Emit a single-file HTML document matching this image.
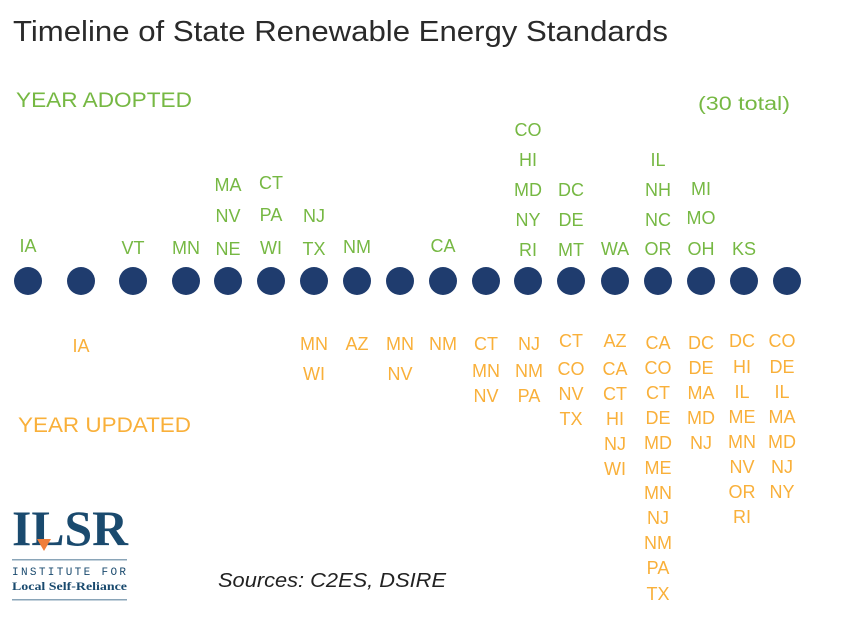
<!DOCTYPE html>
<html><head><style>body{margin:0;background:#fff}svg{display:block}</style></head>
<body>
<svg width="841" height="619" xmlns="http://www.w3.org/2000/svg" font-family="Liberation Sans, sans-serif">
<text x="13" y="41" font-size="29" fill="#2a2a2a" textLength="655" lengthAdjust="spacingAndGlyphs">Timeline of State Renewable Energy Standards</text>
<text x="16" y="107" font-size="21" fill="#76b843" textLength="176" lengthAdjust="spacingAndGlyphs">YEAR ADOPTED</text>
<text x="698" y="110" font-size="19" fill="#76b843" textLength="92" lengthAdjust="spacingAndGlyphs">(30 total)</text>
<text x="18" y="432" font-size="21" fill="#f9b03a" textLength="173" lengthAdjust="spacingAndGlyphs">YEAR UPDATED</text>
<text x="218" y="587" font-size="20" font-style="italic" fill="#222" textLength="228" lengthAdjust="spacingAndGlyphs">Sources: C2ES, DSIRE</text>
<g fill="#1f3c6e">
<circle cx="28" cy="281" r="14"/><circle cx="81" cy="281" r="14"/><circle cx="133" cy="281" r="14"/><circle cx="186" cy="281" r="14"/><circle cx="228" cy="281" r="14"/><circle cx="271" cy="281" r="14"/><circle cx="314" cy="281" r="14"/><circle cx="357" cy="281" r="14"/><circle cx="400" cy="281" r="14"/><circle cx="443" cy="281" r="14"/><circle cx="486" cy="281" r="14"/><circle cx="528" cy="281" r="14"/><circle cx="571" cy="281" r="14"/><circle cx="615" cy="281" r="14"/><circle cx="658" cy="281" r="14"/><circle cx="701" cy="281" r="14"/><circle cx="744" cy="281" r="14"/><circle cx="787" cy="281" r="14"/>
</g>
<g font-size="18" fill="#76b843" text-anchor="middle">
<text x="28" y="252">IA</text>
<text x="133" y="254">VT</text>
<text x="186" y="254">MN</text>
<text x="228" y="191">MA</text><text x="228" y="222">NV</text><text x="228" y="255">NE</text>
<text x="271" y="189">CT</text><text x="271" y="221">PA</text><text x="271" y="254">WI</text>
<text x="314" y="222">NJ</text><text x="314" y="255">TX</text>
<text x="357" y="253">NM</text>
<text x="443" y="252">CA</text>
<text x="528" y="136">CO</text><text x="528" y="166">HI</text><text x="528" y="196">MD</text><text x="528" y="226">NY</text><text x="528" y="256">RI</text>
<text x="571" y="196">DC</text><text x="571" y="226">DE</text><text x="571" y="256">MT</text>
<text x="615" y="255">WA</text>
<text x="658" y="166">IL</text><text x="658" y="196">NH</text><text x="658" y="226">NC</text><text x="658" y="255">OR</text>
<text x="701" y="195">MI</text><text x="701" y="224">MO</text><text x="701" y="255">OH</text>
<text x="744" y="255">KS</text>
</g>
<g font-size="18" fill="#f9b03a" text-anchor="middle">
<text x="81" y="352">IA</text>
<text x="314" y="350">MN</text><text x="314" y="380">WI</text>
<text x="357" y="350">AZ</text>
<text x="400" y="350">MN</text><text x="400" y="380">NV</text>
<text x="443" y="350">NM</text>
<text x="486" y="350">CT</text><text x="486" y="377">MN</text><text x="486" y="402">NV</text>
<text x="529" y="350">NJ</text><text x="529" y="377">NM</text><text x="529" y="402">PA</text>
<text x="571" y="347">CT</text><text x="571" y="375">CO</text><text x="571" y="400">NV</text><text x="571" y="425">TX</text>
<text x="615" y="347">AZ</text><text x="615" y="375">CA</text><text x="615" y="400">CT</text><text x="615" y="425">HI</text><text x="615" y="450">NJ</text><text x="615" y="475">WI</text>
<text x="658" y="349">CA</text><text x="658" y="374">CO</text><text x="658" y="399">CT</text><text x="658" y="424">DE</text><text x="658" y="449">MD</text><text x="658" y="474">ME</text><text x="658" y="499">MN</text><text x="658" y="524">NJ</text><text x="658" y="549">NM</text><text x="658" y="574">PA</text><text x="658" y="600">TX</text>
<text x="701" y="349">DC</text><text x="701" y="374">DE</text><text x="701" y="399">MA</text><text x="701" y="424">MD</text><text x="701" y="449">NJ</text>
<text x="742" y="347">DC</text><text x="742" y="373">HI</text><text x="742" y="398">IL</text><text x="742" y="423">ME</text><text x="742" y="448">MN</text><text x="742" y="473">NV</text><text x="742" y="498">OR</text><text x="742" y="523">RI</text>
<text x="782" y="347">CO</text><text x="782" y="373">DE</text><text x="782" y="398">IL</text><text x="782" y="423">MA</text><text x="782" y="448">MD</text><text x="782" y="473">NJ</text><text x="782" y="498">NY</text>
</g>
<g fill="#1a4a6e">
<text x="12" y="545" font-size="50" font-family="Liberation Serif, serif" font-weight="bold" textLength="116" lengthAdjust="spacingAndGlyphs">ILSR</text>
<polygon points="37,539 51,539 44,551" fill="#f07e3a"/>
<rect x="12" y="559" width="115" height="1.5" fill="#8aa5b8"/>
<text x="12" y="575" font-size="11" font-family="Liberation Mono, monospace" textLength="114" lengthAdjust="spacing">INSTITUTE FOR</text>
<text x="12" y="590" font-size="12" font-family="Liberation Serif, serif" font-weight="bold" textLength="115" lengthAdjust="spacingAndGlyphs">Local Self-Reliance</text>
<rect x="12" y="599" width="115" height="1.5" fill="#8aa5b8"/>
</g>
</svg>
</body></html>
